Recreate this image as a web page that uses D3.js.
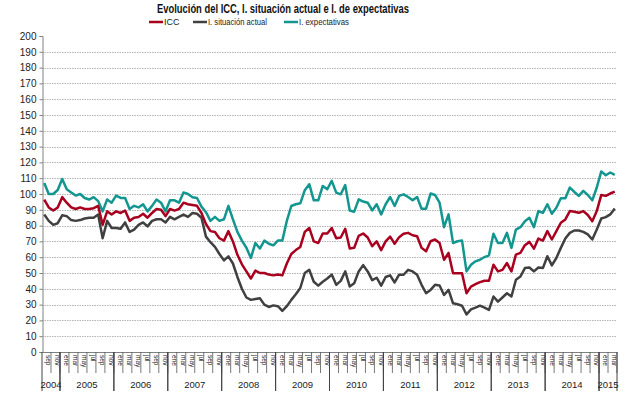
<!DOCTYPE html>
<html><head><meta charset="utf-8">
<script src="https://cdn.jsdelivr.net/npm/d3@7/dist/d3.min.js"></script>
<style>body{margin:0;background:#fff}svg{display:block;font-family:"Liberation Sans",Arial,sans-serif}</style>
</head><body><svg id="c" width="631" height="399"></svg>
<script>
const title = "Evolución del ICC, I. situación actual e I. de expectativas";
const seriesNames = ["ICC", "I. situación actual", "I. expectativas"];
const seriesColors = ["#A8001E", "#404040", "#13968F"];
const startMonth = [2004, 8]; // Sep 2004 (month index 0-based)
const monthLabels = ["ene","feb","mar","abr","may","jun","jul","ago","sep","oct","nov","dic"];
const yTicks = [0,10,20,30,40,50,60,70,80,90,100,110,120,130,140,150,160,170,180,190,200];
const years = ["2004","2005","2006","2007","2008","2009","2010","2011","2012","2013","2014","2015"];

const icc = [96.5,91.5,89.5,91.5,98,94.5,91.5,90.5,91.5,90.5,90.5,91,92.5,80.5,89,87,89,88,89.5,83,85,85.5,87.5,85,88,90.5,90,86,90.5,89.5,90.5,94.5,93.5,93,92.5,88,81,76.5,76,72,70.5,76.5,70,61.5,55.5,51,46.5,51.5,50,50,49,48.5,49,48.5,56,62,64.5,66.5,76,78.5,70,69,75,75,78.5,72,72.5,78,65.5,66,73.5,75,72.5,67,70,64.5,70,73,68.5,72.7,74.8,75.4,73.9,73.3,65.9,63.7,70.1,71.2,69,58.4,62.7,49.9,49.9,49.9,37.2,41.4,42.9,44.2,45.1,45.1,55.2,51,52,56.3,51,61.6,62.7,67.6,69.7,65.4,71.8,70.5,76.5,71.2,76.5,81.8,83.9,89.2,88.8,88.1,89.2,86.7,82.8,89.2,99.4,98.8,100.3,101.5];
const actual = [87,83,80.5,81.5,86.5,86,83.5,83,83.5,84.5,85,85,87,72,83,78.5,78.5,78,82,76,77.5,80.5,82,79.5,83,84,84,82,85.5,84,85.5,87,85.5,88,87.5,85,73,69.5,66.5,62,58,60.5,56,47.5,40,34.5,33,33.5,34,30,28.5,29.5,29,26,29,33,36.5,40.5,50,52,44.5,42,44.5,46.5,49,42.5,45,51,41.5,43.5,51,55,51,45.5,47,42,47.5,48.5,44,48.9,48.9,52,51,48.9,42.5,37.2,39.3,42.5,42.1,36.1,39.3,30.8,30.2,29.3,23.8,27,28.1,29.3,28.1,26.6,35.1,31.9,34.5,37.2,35.1,45.7,47.8,53.1,53.5,51,53.5,53.1,60.6,54.8,59.5,65.9,71.8,75.4,76.9,76.9,76,74.4,71.2,77.5,84.5,85.4,87.1,90.9];
const expect = [107,100,100,102.5,109.5,103,101,99,100,97.5,96.5,98,95.5,89,96.5,94.5,99,97.5,97.5,90.5,92.5,91.5,93.5,89,92.5,96.5,94.5,89,96,96,94.5,101,100,98,97.5,92,88.5,83,85.5,83,84,92.5,84,76,70.5,66,59.5,69,65.5,70.5,68.5,67.5,70.5,70.5,83,92.4,93.5,94.1,102.4,106.2,96,96,105.1,103,108.3,100.9,99.8,105.6,89.6,88.8,96.6,95.2,94.5,89.6,93.5,87.1,93.5,98.1,92.4,98.8,99.8,98.1,96,98.1,90.7,90.7,100.3,99.4,94.5,79,87.1,69,70.1,70.5,51,55.2,57.4,58.4,60.1,61.2,74.8,69,69,75.4,65.9,77.5,79,82.8,85,79,89.2,88.1,93.5,87.5,91.3,97.3,97.3,104.1,101.3,98.8,102,99.4,96,104.1,114.3,111.9,113.6,112.1];

const n = icc.length;
const months = d3.range(n).map(i => {
  const m = startMonth[1] + i;
  return {i, year: startMonth[0] + Math.floor(m/12), month: m % 12};
});

const svg = d3.select("#c");
const L = 42, R = 617, T = 36, B = 352;
const x = d3.scaleBand().domain(d3.range(n)).range([L, R]).padding(0);
const y = d3.scaleLinear().domain([0, 200]).range([B, T]);

// title
svg.append("text").attr("x", 283).attr("y", 13).attr("text-anchor","middle")
  .attr("font-size", 12.5).attr("font-weight","bold").attr("fill","#111")
  .attr("textLength", 252).attr("lengthAdjust","spacingAndGlyphs").text(title);

// legend
const legX = [149, 193, 284];
const legW = [null, 59, 50];
seriesNames.forEach((s, k) => {
  const g = svg.append("g");
  g.append("line").attr("x1", legX[k]).attr("x2", legX[k]+14).attr("y1", 22).attr("y2", 22)
    .attr("stroke", seriesColors[k]).attr("stroke-width", 2.5);
  const t = g.append("text").attr("x", legX[k]+15).attr("y", 25).attr("font-size", 9).attr("fill","#222").text(s);
  if (legW[k]) t.attr("textLength", legW[k]).attr("lengthAdjust","spacingAndGlyphs");
});

// gridlines
svg.append("g").selectAll("line").data(yTicks.filter(v => v > 0 && v < 200)).join("line")
  .attr("x1", L).attr("x2", R).attr("y1", d => Math.round(y(d))+0.5).attr("y2", d => Math.round(y(d))+0.5)
  .attr("stroke", "#b4b4b4").attr("stroke-width", 1).attr("stroke-dasharray", "1.5,1");

// y axis
const yAxis = d3.axisLeft(y).tickValues(yTicks).tickSize(3).tickPadding(3);
const ya = svg.append("g").attr("transform", `translate(${L+0.5},0)`).call(yAxis);
ya.select(".domain").attr("stroke", "#808080");
ya.selectAll(".tick line").attr("stroke", "#808080");
ya.selectAll("text").attr("font-size", 10).attr("fill", "#222").attr("font-family", '"Liberation Sans",Arial,sans-serif');

// x axis base line
svg.append("line").attr("x1", L).attr("x2", R).attr("y1", B+0.5).attr("y2", B+0.5).attr("stroke", "#808080");

// month tick lines (every 2 months) and labels
const bw = x.bandwidth();
const gx = svg.append("g");
months.forEach(d => {
  if (d.i % 2 === 0) {
    gx.append("text")
      .attr("transform", `translate(${x(d.i) + bw/2 + 2.2},${355}) rotate(90)`)
      .attr("font-size", 6.5).attr("fill", "#222").text(monthLabels[d.month]);
  }
  if (d.i % 2 === 1) {
    const xe = x(d.i) + bw;
    gx.append("line").attr("x1", xe).attr("x2", xe).attr("y1", B).attr("y2", 373)
      .attr("stroke", "#555").attr("stroke-width", 0.8);
  }
});
// year separators and labels
years.forEach(yr => {
  const ms = months.filter(d => String(d.year) === yr);
  const x0 = x(ms[0].i), x1 = x(ms[ms.length-1].i) + bw;
  [x0, x1].forEach(xx => gx.append("line").attr("x1", xx).attr("x2", xx).attr("y1", B).attr("y2", 391)
    .attr("stroke", "#444").attr("stroke-width", 1));
  gx.append("text").attr("x", (x0+x1)/2).attr("y", 388).attr("text-anchor", "middle")
    .attr("font-size", 9.5).attr("fill", "#222").text(yr);
});

// lines
const line = d3.line().x((d, i) => x(i) + bw/2).y(d => y(d)).curve(d3.curveLinear);
[expect, actual, icc].forEach((arr, k) => {
  const col = [seriesColors[2], seriesColors[1], seriesColors[0]][k];
  svg.append("path").datum(arr).attr("d", line).attr("fill", "none")
    .attr("stroke", col).attr("stroke-width", 2.5).attr("stroke-linejoin", "round");
});
</script></body></html>
